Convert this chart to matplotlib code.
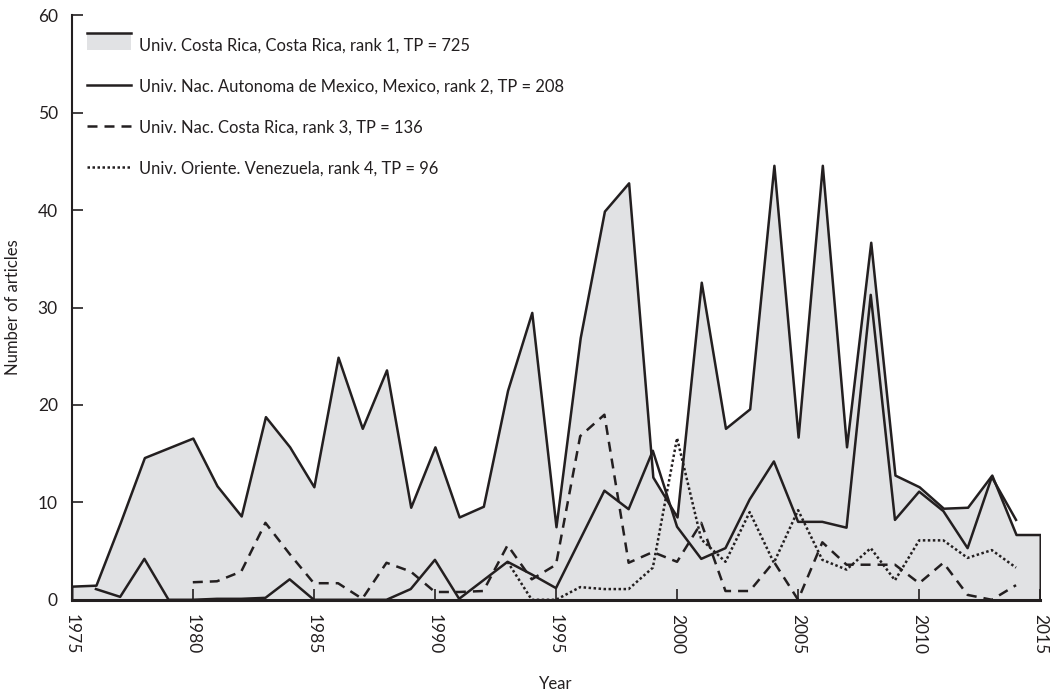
import numpy as np
import matplotlib
matplotlib.use('Agg')
import matplotlib.pyplot as plt
from matplotlib.legend_handler import HandlerBase
from matplotlib.patches import Rectangle
from matplotlib.lines import Line2D

plt.rcParams['font.family'] = ['Lato', 'DejaVu Sans']

# Univ. Costa Rica, 1975-2015
ucr_years = list(range(1975, 2016))
ucr = [1.4, 1.5, 7.9, 14.6, 15.6, 16.6, 11.7, 8.6, 18.8, 15.7,
       11.6, 24.9, 17.6, 23.6, 9.5, 15.7, 8.5, 9.6, 21.5, 29.5,
       7.5, 26.9, 39.9, 42.8, 12.6, 8.5, 32.6, 17.6, 19.6, 44.6,
       16.7, 44.6, 15.7, 36.7, 12.8, 11.6, 9.4, 9.5, 12.8, 6.7,
       6.7]

# Univ. Nac. Autonoma de Mexico, 1976-2014
unam_years = list(range(1976, 2015))
unam = [1.1, 0.3, 4.2, 0.0, 0.0, 0.1, 0.1, 0.2, 2.1, 0.0,
        0.0, 0.0, 0.0, 1.1, 4.1, 0.1, 2.0, 3.9, 2.6, 1.2,
        6.2, 11.2, 9.3, 15.3, 7.5, 4.2, 5.3, 10.3, 14.2, 8.0,
        8.0, 7.4, 31.3, 8.2, 11.1, 9.1, 5.3, 12.6, 8.2]

# Univ. Nac. Costa Rica, 1980-2014
una_years = list(range(1980, 2015))
una = [1.8, 1.9, 2.9, 7.9, 4.7, 1.7, 1.7, 0.1, 3.8, 2.9,
       0.8, 0.8, 0.9, 5.6, 2.1, 3.6, 16.8, 19.0, 3.8, 4.9,
       3.9, 7.9, 0.9, 0.9, 3.9, 0.0, 5.9, 3.6, 3.6, 3.6,
       1.7, 3.8, 0.5, 0.0, 1.5]

# Univ. Oriente, Venezuela, 1993-2014
udo_years = list(range(1993, 2015))
udo = [3.9, 0.0, 0.0, 1.3, 1.1, 1.1, 3.3, 16.6, 6.2, 3.9,
       9.0, 3.8, 9.2, 4.1, 3.1, 5.3, 2.0, 6.1, 6.1, 4.3,
       5.1, 3.3]

labels = ['Univ. Costa Rica, Costa Rica, rank 1, TP = 725',
          'Univ. Nac. Autonoma de Mexico, Mexico, rank 2, TP = 208',
          'Univ. Nac. Costa Rica, rank 3, TP = 136',
          'Univ. Oriente. Venezuela, rank 4, TP = 96']

gray = '#e1e2e4'
ink = '#231f20'
lw = 1.8


class FillHandler(HandlerBase):
    def create_artists(self, legend, orig, xd, yd, w, h, fontsize, trans):
        r = Rectangle((xd, yd - 0.1 * h), w, h * 1.1, facecolor=gray,
                      edgecolor='none', transform=trans)
        l = Line2D([xd, xd + w], [yd + h, yd + h], color=ink, lw=lw,
                   transform=trans)
        return [r, l]


fig = plt.figure(figsize=(10.55, 6.95), dpi=100)
ax = fig.add_axes([0.068, 0.137, 0.918, 0.841])

fill = ax.fill_between(ucr_years, ucr, 0, facecolor=gray, edgecolor=ink,
                       linewidth=lw, zorder=1)
l1, = ax.plot(unam_years, unam, color=ink, lw=lw, zorder=2)
l2, = ax.plot(una_years, una, color=ink, lw=lw, dashes=(4, 2.8), zorder=3)
l3, = ax.plot(udo_years, udo, color=ink, lw=lw, linestyle=(0, (1, 1)),
              zorder=4)

ax.set_xlim(1975, 2015)
ax.set_ylim(0, 60)
ax.set_xticks(range(1975, 2016, 5))
ax.set_yticks(range(0, 61, 10))
ax.tick_params(axis='x', direction='in', length=8, width=1.2, pad=10,
               labelrotation=270, labelsize=12.5, colors=ink)
ax.tick_params(axis='y', direction='in', length=8, width=1.2, pad=10,
               labelsize=12.5, colors=ink)
for s in ['top', 'right']:
    ax.spines[s].set_visible(False)
ax.spines['left'].set_linewidth(1.5)
ax.spines['bottom'].set_linewidth(2.2)
ax.spines['left'].set_color(ink)
ax.spines['bottom'].set_color(ink)

ax.set_xlabel('Year', fontsize=12, color=ink, labelpad=16)
ax.set_ylabel('Number of articles', fontsize=12, color=ink, labelpad=12)

leg = ax.legend([fill, l1, l2, l3], labels, loc='upper left',
                bbox_to_anchor=(0.0155, 0.962), frameon=False, fontsize=11.9,
                handlelength=2.7, handleheight=1.05, handletextpad=0.45,
                labelspacing=1.5, borderaxespad=0, borderpad=0,
                handler_map={fill: FillHandler()})
for t in leg.get_texts():
    t.set_color(ink)

plt.savefig('out.png', dpi=100)
plt.close(fig)
